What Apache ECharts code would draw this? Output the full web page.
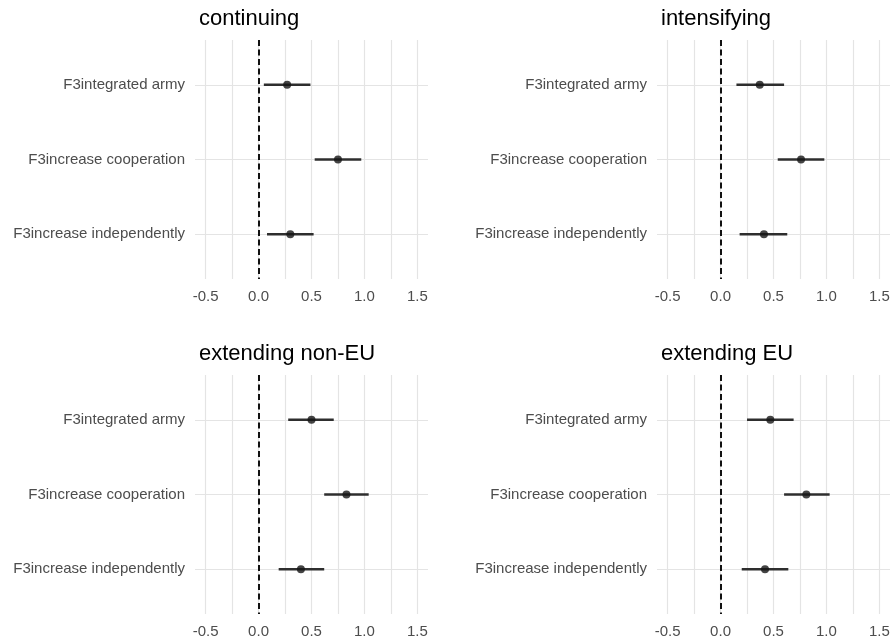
<!DOCTYPE html>
<html>
<head>
<meta charset="utf-8">
<script src="https://cdn.jsdelivr.net/npm/echarts@6/dist/echarts.min.js"></script>
<style>
  html, body { margin: 0; padding: 0; background: #fff; }
  #chart { width: 896px; height: 641px; }
</style>
</head>
<body>
<div id="chart"></div>
<script>
// Coefficient estimates with 95% intervals, one panel per scenario
const categories = ['F3integrated army', 'F3increase cooperation', 'F3increase independently'];
const panelTitles = ['continuing', 'intensifying', 'extending non-EU', 'extending EU'];

const estContinuing = [0.27, 0.75, 0.30];
const lowContinuing = [0.05, 0.53, 0.08];
const highContinuing = [0.49, 0.97, 0.52];

const estIntensifying = [0.37, 0.76, 0.41];
const lowIntensifying = [0.15, 0.54, 0.18];
const highIntensifying = [0.60, 0.98, 0.63];

const estNonEU = [0.50, 0.83, 0.40];
const lowNonEU = [0.28, 0.62, 0.19];
const highNonEU = [0.71, 1.04, 0.62];

const estEU = [0.47, 0.81, 0.42];
const lowEU = [0.25, 0.60, 0.20];
const highEU = [0.69, 1.03, 0.64];

const xTickLabels = [-0.5, 0, 0.5, 1, 1.5];
const xGridValues = [-0.5, -0.25, 0, 0.25, 0.5, 0.75, 1, 1.25, 1.5];

const panels = [
  { est: estContinuing, low: lowContinuing, high: highContinuing },
  { est: estIntensifying, low: lowIntensifying, high: highIntensifying },
  { est: estNonEU, low: lowNonEU, high: highNonEU },
  { est: estEU, low: lowEU, high: highEU }
];

const FONT = 'Liberation Sans, Arial, sans-serif';
const gridColor = '#e4e4e4';
const textColor = '#4d4d4d';

// panel placement
const lefts = [195, 657, 195, 657];
const tops = [40, 40, 375, 375];
const W = 233, H = 239;

const grids = [], xAxes = [], yAxes = [], series = [], titles = [];

panels.forEach((p, i) => {
  grids.push({ left: lefts[i], top: tops[i], width: W, height: H });
  titles.push({
    text: panelTitles[i],
    left: lefts[i] - 1,
    top: tops[i] - 37,
    textStyle: { fontFamily: FONT, fontSize: 22, fontWeight: 'normal', color: '#000' }
  });
  xAxes.push({
    type: 'value', gridIndex: i, min: -0.6, max: 1.6,
    axisLine: { show: false },
    axisTick: { show: false, customValues: xGridValues },
    splitLine: { show: true, lineStyle: { color: gridColor, width: 1.2 } },
    axisLabel: {
      customValues: xTickLabels,
      formatter: v => v.toFixed(1),
      color: textColor, fontFamily: FONT, fontSize: 15, margin: 10
    }
  });
  yAxes.push({
    type: 'value', gridIndex: i, min: 0.4, max: 3.6, inverse: true,
    axisLine: { show: false },
    axisTick: { show: false, customValues: [1, 2, 3] },
    splitLine: { show: true, lineStyle: { color: gridColor, width: 1.2 } },
    axisLabel: {
      customValues: [1, 2, 3],
      formatter: v => categories[Math.round(v) - 1],
      color: textColor, fontFamily: FONT, fontSize: 15, margin: 10
    }
  });

  // confidence intervals
  series.push({
    type: 'custom', xAxisIndex: i, yAxisIndex: i, silent: true,
    data: categories.map((c, k) => [p.low[k], p.high[k], k + 1]),
    encode: { x: [0, 1], y: 2 },
    renderItem: (params, api) => {
      const a = api.coord([api.value(0), api.value(2)]);
      const b = api.coord([api.value(1), api.value(2)]);
      return {
        type: 'line',
        shape: { x1: a[0], y1: a[1], x2: b[0], y2: b[1] },
        style: { stroke: '#2e2e2e', lineWidth: 2.6 }
      };
    },
    z: 3
  });

  // point estimates, with the dashed reference line at zero
  series.push({
    type: 'scatter', xAxisIndex: i, yAxisIndex: i, silent: true,
    data: categories.map((c, k) => [p.est[k], k + 1]),
    symbolSize: 8,
    itemStyle: { color: '#151515' },
    z: 4,
    markLine: {
      silent: true, symbol: 'none',
      label: { show: false },
      lineStyle: { color: '#111', type: [6, 3.5], width: 2 },
      data: [{ xAxis: 0 }],
      z: 2
    }
  });
});

const chart = echarts.init(document.getElementById('chart'));
chart.setOption({
  animation: false,
  backgroundColor: '#fff',
  title: titles,
  grid: grids,
  xAxis: xAxes,
  yAxis: yAxes,
  series: series
});
</script>
</body>
</html>
